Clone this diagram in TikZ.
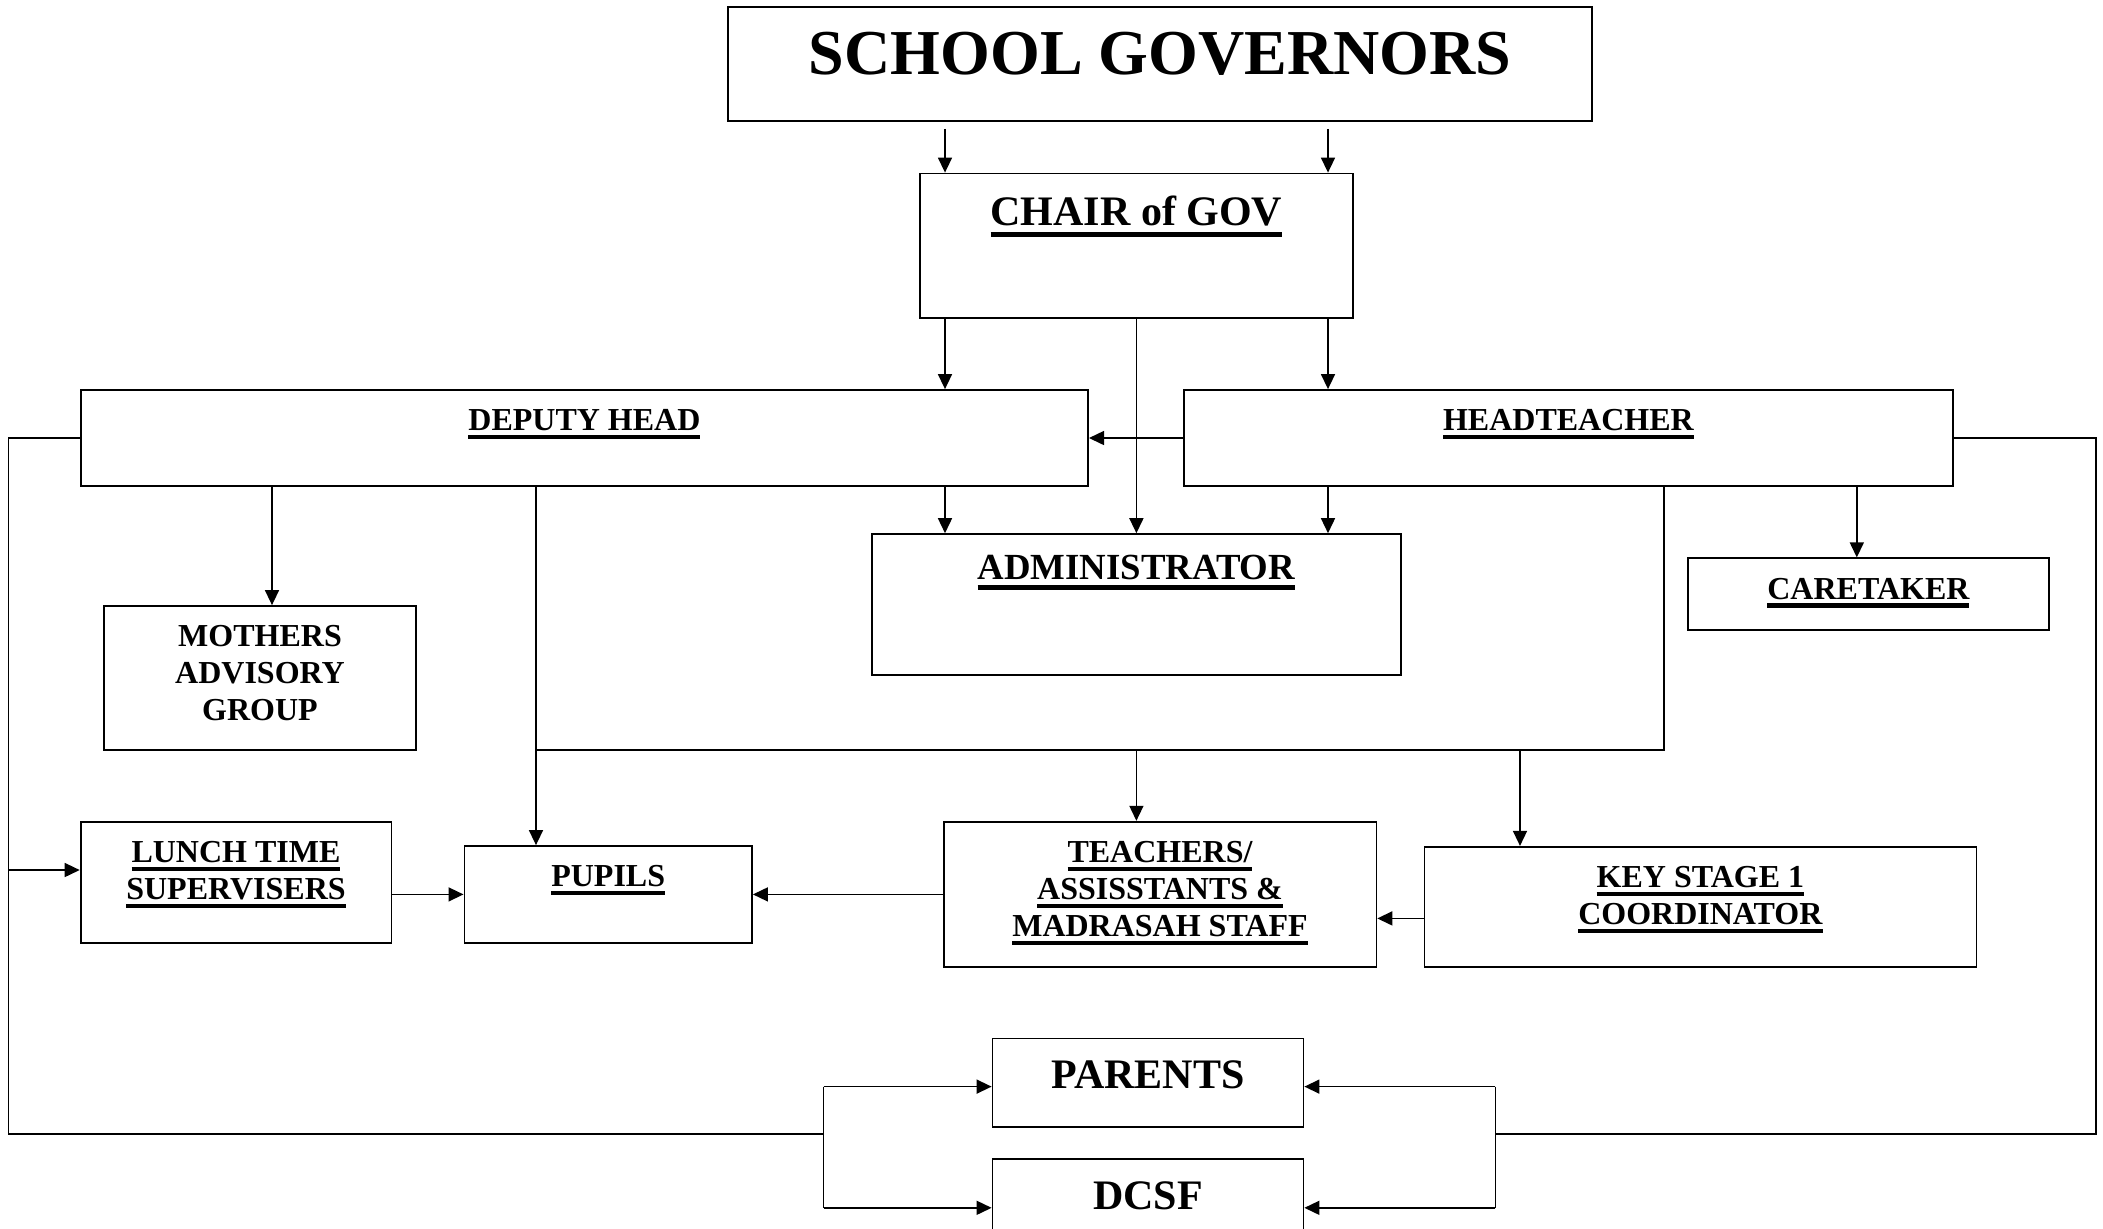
\documentclass[tikz,border=0pt]{standalone}
\usepackage{fontspec}
\setmainfont{Liberation Serif}
\usetikzlibrary{arrows.meta}

\newcommand{\ulword}[1]{\vtop{\hbox{#1}\kern0.13em\hrule height0.13em}}

\begin{document}
\begin{tikzpicture}[x=1pt,y=-1pt,
  box/.style={draw, line width=0.9pt, inner sep=0pt},
  lbl/.style={anchor=north, inner sep=0pt, align=center},
  lbl16/.style={lbl, yshift=-10pt, font=\bfseries\fontsize{16}{18.5}\selectfont},
  lbl18/.style={lbl, yshift=-11pt, font=\bfseries\fontsize{18.4}{21}\selectfont},
  lbl21/.style={lbl, yshift=-11.5pt, font=\bfseries\fontsize{21}{24}\selectfont},
  lbl32/.style={lbl, yshift=-13pt, font=\bfseries\fontsize{32}{36}\selectfont},
  line/.style={line width=0.75pt},
  arr/.style={line, -{Triangle[length=7.5pt,width=7pt]}}]

\useasboundingbox (0,0) rectangle (1051.5,614);
\clip (0,0) rectangle (1051.5,614);

% top
\node[box, minimum width=432pt, minimum height=57pt, label={[lbl32]north:SCHOOL GOVERNORS}] (sg) at (580,32) {};
\node[box, minimum width=216.3pt, minimum height=72.3pt, label={[lbl21]north:\ulword{CHAIR of GOV}}] (chair) at (568.2,122.9) {};

% heads
\node[box, minimum width=503.7pt, minimum height=48pt, label={[lbl16]north:\ulword{DEPUTY HEAD}}] (dh) at (292.2,219) {};
\node[box, minimum width=384.4pt, minimum height=48pt, label={[lbl16]north:\ulword{HEADTEACHER}}] (ht) at (784.2,219) {};
\node[box, minimum width=264.3pt, minimum height=70.5pt, label={[lbl18]north:\ulword{ADMINISTRATOR}}] (admin) at (568.2,302.3) {};
\node[box, minimum width=180.3pt, minimum height=35.9pt, label={[lbl16]north:\ulword{CARETAKER}}] (care) at (934.2,297.1) {};
\node[box, minimum width=156pt, minimum height=72pt, label={[lbl16]north:MOTHERS\\ADVISORY\\GROUP}] (mag) at (130,339) {};

% staff and pupils
\node[box, minimum width=155.4pt, minimum height=60.5pt, label={[lbl16]north:\ulword{LUNCH TIME}\\\ulword{SUPERVISERS}}] (lts) at (118,441.1) {};
\node[box, minimum width=143.8pt, minimum height=48.4pt, label={[lbl16]north:\ulword{PUPILS}}] (pupils) at (304.1,447.2) {};
\node[box, minimum width=216.4pt, minimum height=72.5pt, label={[lbl16]north:\ulword{TEACHERS/}\\\ulword{ASSISSTANTS \&}\\\ulword{MADRASAH STAFF}}] (teach) at (580,447.1) {};
\node[box, minimum width=276pt, minimum height=60pt, label={[lbl16]north:\ulword{KEY STAGE 1}\\\ulword{COORDINATOR}}] (ks1) at (850.2,453.4) {};

% outside
\node[box, minimum width=155.5pt, minimum height=44.2pt, label={[lbl21]north:PARENTS}] (parents) at (574,541.3) {};
\node[box, minimum width=155.5pt, minimum height=48.7pt, label={[lbl21]north:DCSF}] (dcsf) at (574,603.9) {};

\coordinate (bus) at (268,375);
\coordinate (lc) at (4.2,567);
\coordinate (lb) at (411.75,567);
\coordinate (rc) at (1048,567);
\coordinate (rb) at (747.7,567);

% governors to chair
\draw[arr, shorten <=3.5pt] (472.5,0 |- sg.south) -- (472.5,0 |- chair.north);
\draw[arr, shorten <=3.5pt] (664,0 |- sg.south) -- (664,0 |- chair.north);

% chair down
\draw[arr] (472.5,0 |- chair.south) -- (472.5,0 |- dh.north);
\draw[arr] (664,0 |- chair.south) -- (664,0 |- ht.north);
\draw[arr] (chair.south) -- (admin.north);

% heads down
\draw[arr] (ht.west) -- (dh.east);
\draw[arr] (472.5,0 |- dh.south) -- (472.5,0 |- admin.north);
\draw[arr] (664,0 |- ht.south) -- (664,0 |- admin.north);
\draw[arr] (928.4,0 |- ht.south) -- (928.4,0 |- care.north);
\draw[arr] (136,0 |- dh.south) -- (136,0 |- mag.north);
\draw[arr] (268,0 |- dh.south) -- (268,0 |- pupils.north);

% staff line
\draw[line] (832,0 |- ht.south) |- (bus);
\draw[arr] (568.2,0 |- bus) -- (568.2,0 |- teach.north);
\draw[arr] (760,0 |- bus) -- (760,0 |- ks1.north);

% into pupils
\draw[arr] (lts.east |- pupils.west) -- (pupils.west);
\draw[arr] (teach.west |- pupils.east) -- (pupils.east);
\draw[arr] (ks1.west |- 0,459.2) -- (teach.east |- 0,459.2);

% left loop
\draw[line] (dh.west) -| (lc) -- (lb);
\draw[arr] (lc |- 0,435) -- (lts.west |- 0,435);
\draw[line] ([yshift=-2pt]parents.west -| lb) -- (dcsf.west -| lb);
\draw[arr] ([yshift=-2pt]parents.west -| lb) -- ([yshift=-2pt]parents.west);
\draw[arr] (dcsf.west -| lb) -- (dcsf.west);

% right loop
\draw[line] (ht.east) -| (rc) -- (rb);
\draw[line] ([yshift=-2pt]parents.east -| rb) -- (dcsf.east -| rb);
\draw[arr] ([yshift=-2pt]parents.east -| rb) -- ([yshift=-2pt]parents.east);
\draw[arr] (dcsf.east -| rb) -- (dcsf.east);

\end{tikzpicture}
\end{document}
